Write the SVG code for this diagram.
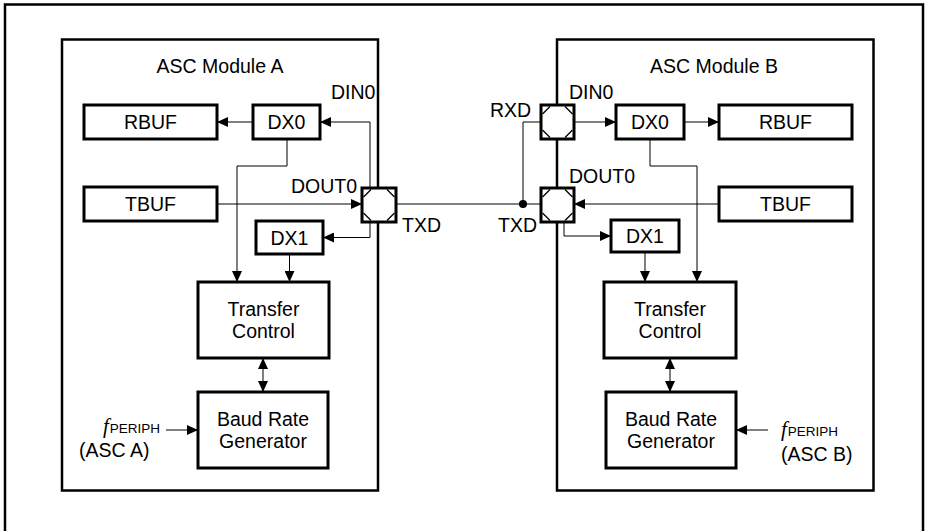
<svg xmlns="http://www.w3.org/2000/svg" width="927" height="531" viewBox="0 0 927 531">
<style>
.frame{fill:none;stroke:#000;stroke-width:2.5}
.mod{fill:none;stroke:#000;stroke-width:2.5}
.box{fill:#fff;stroke:#000;stroke-width:3}
.pin{fill:#fff;stroke:#000;stroke-width:3}
.pc{fill:none;stroke:#000;stroke-width:1.3}
.ln{fill:none;stroke:#000;stroke-width:1}
.arr{marker-end:url(#ah)}
.dbl{marker-start:url(#ah);marker-end:url(#ah)}
text{font-family:"Liberation Sans",Arial,sans-serif;font-size:19.5px;fill:#000}
.c{text-anchor:middle}
.f{font-family:"Liberation Serif","Times New Roman",serif;font-style:italic;font-size:21px}
.sub{font-size:13.5px}
</style>
<defs>
<marker id="ah" markerWidth="11" markerHeight="10" refX="11" refY="5" orient="auto-start-reverse" markerUnits="userSpaceOnUse">
<path d="M0,0 L11,5 L0,10 z" fill="#000"/>
</marker>
</defs>
<rect class="frame" x="5" y="4.5" width="918" height="600"/>
<g id="moduleA">
<rect class="mod" x="62" y="39.5" width="316" height="451"/>
<text class="c" x="220" y="73">ASC Module A</text>
</g>
<g id="moduleB">
<rect class="mod" x="557" y="39.5" width="316.5" height="451"/>
<text class="c" x="714" y="73">ASC Module B</text>
</g>
<g id="connectors">
<path class="ln arr" d="M253,122 H217"/>
<path class="ln arr" d="M370,188 V122 H320"/>
<path class="ln arr" d="M370,222 V237.5 H323"/>
<path class="ln arr" d="M217,204 H362"/>
<path class="ln arr" d="M287,139 V166 H237 V282"/>
<path class="ln arr" d="M289.5,254 V282"/>
<path class="ln dbl" d="M263,358 V392"/>
<path class="ln arr" d="M166,430 H198"/>
<path class="ln" d="M396,204 H541"/>
<path class="ln" d="M523,204 V122 H541"/>
<circle cx="523" cy="204" r="4" fill="#000"/>
<path class="ln arr" d="M574,122 H616"/>
<path class="ln arr" d="M684,122 H719"/>
<path class="ln arr" d="M719,204 H574"/>
<path class="ln arr" d="M564,222 V236 H611"/>
<path class="ln arr" d="M650,139 V166 H697 V282"/>
<path class="ln arr" d="M645,252 V282"/>
<path class="ln dbl" d="M670,358 V392"/>
<path class="ln arr" d="M768,430 H736"/>
</g>
<g id="rbufA"><rect class="box" x="84" y="105" width="133" height="34"/><text class="c" x="150.5" y="129">RBUF</text></g>
<g id="dx0A"><rect class="box" x="253" y="105" width="67" height="34"/><text class="c" x="286.5" y="129">DX0</text></g>
<g id="tbufA"><rect class="box" x="84" y="187" width="133" height="34"/><text class="c" x="150.5" y="211">TBUF</text></g>
<g id="dx1A"><rect class="box" x="256" y="221" width="67" height="33"/><text class="c" x="289.5" y="244.5">DX1</text></g>
<g id="tcA"><rect class="box" x="198" y="282" width="131" height="76"/><text class="c" x="263.5" y="316">Transfer</text><text class="c" x="263.5" y="338">Control</text></g>
<g id="brgA"><rect class="box" x="198" y="392" width="130" height="76"/><text class="c" x="263" y="426">Baud Rate</text><text class="c" x="263" y="448">Generator</text></g>
<g id="pinA">
<rect class="pin" x="362" y="188" width="34" height="34"/>
<path class="pc" d="M363.5,197 L371,189.5 M387,189.5 L394.5,197 M363.5,213 L371,220.5 M387,220.5 L394.5,213"/>
<text x="291" y="193">DOUT0</text>
<text x="331" y="99">DIN0</text>
<text x="402" y="232">TXD</text>
</g>
<g id="fperiphA">
<text x="103" y="433"><tspan class="f">f</tspan><tspan class="sub" dx="1">PERIPH</tspan></text>
<text x="79" y="457">(ASC A)</text>
</g>
<g id="rbufB"><rect class="box" x="719" y="105" width="133" height="34"/><text class="c" x="785.5" y="129">RBUF</text></g>
<g id="dx0B"><rect class="box" x="616" y="105" width="68" height="34"/><text class="c" x="650" y="129">DX0</text></g>
<g id="tbufB"><rect class="box" x="719" y="187" width="133" height="34"/><text class="c" x="785.5" y="211">TBUF</text></g>
<g id="dx1B"><rect class="box" x="611" y="220" width="68" height="32"/><text class="c" x="645" y="243">DX1</text></g>
<g id="tcB"><rect class="box" x="604" y="282" width="132" height="76"/><text class="c" x="670" y="316">Transfer</text><text class="c" x="670" y="338">Control</text></g>
<g id="brgB"><rect class="box" x="606" y="392" width="130" height="76"/><text class="c" x="671" y="426">Baud Rate</text><text class="c" x="671" y="448">Generator</text></g>
<g id="pinRxdB">
<rect class="pin" x="541" y="105" width="33" height="34"/>
<path class="pc" d="M542.5,114 L550,106.5 M565,106.5 L572.5,114 M542.5,130 L550,137.5 M565,137.5 L572.5,130"/>
<text x="490" y="117">RXD</text>
<text x="569" y="99">DIN0</text>
</g>
<g id="pinTxdB">
<rect class="pin" x="541" y="188" width="33" height="34"/>
<path class="pc" d="M542.5,197 L550,189.5 M565,189.5 L572.5,197 M542.5,213 L550,220.5 M565,220.5 L572.5,213"/>
<text x="569" y="183">DOUT0</text>
<text x="498" y="232">TXD</text>
</g>
<g id="fperiphB">
<text x="781" y="436"><tspan class="f">f</tspan><tspan class="sub" dx="1">PERIPH</tspan></text>
<text x="781" y="461">(ASC B)</text>
</g>
</svg>
